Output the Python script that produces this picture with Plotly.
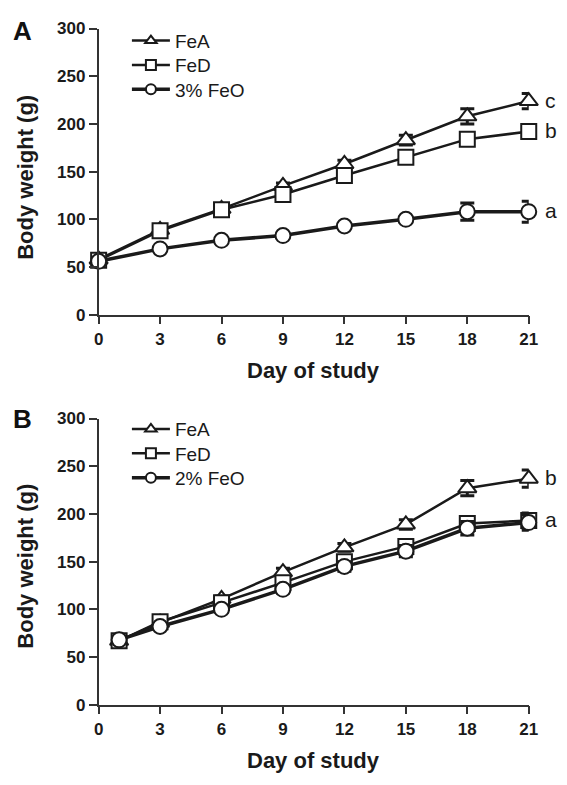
import plotly.graph_objects as go

# ---------------- data ----------------
days_a = [0, 3, 6, 9, 12, 15, 18, 21]
fea_a = [58, 89, 111, 135, 158, 183, 208, 224]
fea_a_err = [2, 3, 3, 3, 4, 5, 8, 8]
fed_a = [57, 88, 110, 126, 146, 165, 184, 192]
fed_a_err = [2, 3, 3, 3, 4, 6, 4, 4]
feo_a = [56, 69, 78, 83, 93, 100, 108, 108]
feo_a_err = [2, 2, 2, 2, 3, 3, 9, 11]

days_b = [1, 3, 6, 9, 12, 15, 18, 21]
fea_b = [67, 86, 111, 139, 165, 189, 227, 237]
fea_b_err = [2, 3, 3, 4, 4, 5, 8, 9]
fed_b = [67, 87, 107, 128, 150, 166, 190, 193]
fed_b_err = [2, 3, 3, 4, 5, 6, 5, 8]
feo_b = [68, 82, 100, 121, 145, 161, 185, 191]
feo_b_err = [2, 3, 3, 4, 5, 6, 7, 8]

names_a = ["FeA", "FeD", "3% FeO"]
names_b = ["FeA", "FeD", "2% FeO"]
letters_a = ["c", "b", "a"]
letters_b = ["b", "a"]

x_ticks = [0, 3, 6, 9, 12, 15, 18, 21]
y_ticks = [0, 50, 100, 150, 200, 250, 300]

INK = "#1a1a1a"
SYMS = ["triangle-up", "square", "circle"]
msizes = [16, 15, 15]
lwidths = [2.5, 2.5, 3.5]
FONT = "Liberation Sans, Arial, sans-serif"
W, H = 567, 785

fig = go.Figure()

def add_series(xs, ys, errs, idx, xa, ya):
    fig.add_trace(go.Scatter(
        x=xs, y=ys, mode="lines+markers", xaxis=xa, yaxis=ya,
        showlegend=False, cliponaxis=False,
        line=dict(color=INK, width=lwidths[idx]),
        marker=dict(symbol=SYMS[idx], size=msizes[idx], color="white",
                    line=dict(color=INK, width=2)),
        error_y=dict(type="data", array=errs, visible=True,
                     color=INK, thickness=3, width=7),
    ))

def add_legend(name, idx, legend):
    fig.add_trace(go.Scatter(
        x=[None], y=[None], mode="lines+markers", name=name,
        legend=legend, showlegend=True,
        line=dict(color=INK, width=lwidths[idx]),
        marker=dict(symbol=SYMS[idx], size=10, color="white",
                    line=dict(color=INK, width=2)),
    ))

for i, (ys, es) in enumerate([(fea_a, fea_a_err), (fed_a, fed_a_err), (feo_a, feo_a_err)]):
    add_series(days_a, ys, es, i, "x", "y")
for i, (ys, es) in enumerate([(fea_b, fea_b_err), (fed_b, fed_b_err), (feo_b, feo_b_err)]):
    add_series(days_b, ys, es, i, "x2", "y2")

legend_layout = {}
k = 0
for panel_top, names in [(13, names_a), (411, names_b)]:
    for i, n in enumerate(names):
        k += 1
        key = "legend" if k == 1 else f"legend{k}"
        add_legend(n, i, key)
        legend_layout[key] = dict(
            x=125 / W, y=1 - (panel_top + 25 * i) / H, xanchor="left", yanchor="top",
            bgcolor="rgba(0,0,0,0)", itemwidth=38,
            font=dict(family=FONT, size=19, color=INK))

xdom = [96 / W, 537 / W]
ydom_a = [1 - 313.3 / H, 1 - 20 / H]
ydom_b = [1 - 713 / H, 1 - 419.7 / H]

axis_common = dict(
    showline=True, linecolor="#333333", linewidth=1.5,
    ticks="outside", ticklen=8, tickwidth=1.5, tickcolor="#333333",
    showgrid=False, zeroline=False,
    tickfont=dict(family=FONT, size=17, color="#1a1a1a", weight="bold"),
)

fig.update_layout(
    width=W, height=H,
    margin=dict(l=0, r=0, t=0, b=0),
    paper_bgcolor="white", plot_bgcolor="white",
    xaxis=dict(domain=xdom, range=[0, 21], tickvals=x_ticks, anchor="y", **axis_common),
    yaxis=dict(domain=ydom_a, range=[0, 300], tickvals=y_ticks, anchor="x", **axis_common),
    xaxis2=dict(domain=xdom, range=[0, 21], tickvals=x_ticks, anchor="y2", **axis_common),
    yaxis2=dict(domain=ydom_b, range=[0, 300], tickvals=y_ticks, anchor="x2", **axis_common),
    showlegend=True,
    **legend_layout,
)

ann = []
for lab, yc in [("A", 22.5), ("B", 420.5)]:
    ann.append(dict(text=lab, x=17.5 / W, y=1 - yc / H, xref="paper", yref="paper",
                    showarrow=False, xanchor="center", yanchor="middle",
                    font=dict(family=FONT, size=26, color="#111", weight="bold")))
for yc in [370, 769.7]:
    ann.append(dict(text="Day of study", x=316 / W, y=1 - yc / H, xref="paper", yref="paper",
                    showarrow=False, xanchor="center", yanchor="middle",
                    font=dict(family=FONT, size=22, color="#1a1a1a", weight="bold")))
for yc in [172.5, 571]:
    ann.append(dict(text="Body weight (g)", x=21 / W, y=1 - yc / H, xref="paper", yref="paper",
                    showarrow=False, xanchor="center", yanchor="middle", textangle=-90,
                    font=dict(family=FONT, size=22, color="#1a1a1a", weight="bold")))
for lab, ys in zip(letters_a, [fea_a, fed_a, feo_a]):
    ann.append(dict(text=lab, x=days_a[-1], y=ys[-1], xref="x", yref="y", showarrow=False,
                    xanchor="left", yanchor="middle", xshift=14, yshift=1,
                    font=dict(family=FONT, size=21, color="#1a1a1a")))
for lab, ys in zip(letters_b, [fea_b, fed_b]):
    ann.append(dict(text=lab, x=days_b[-1], y=ys[-1], xref="x2", yref="y2", showarrow=False,
                    xanchor="left", yanchor="middle", xshift=14, yshift=1,
                    font=dict(family=FONT, size=21, color="#1a1a1a")))
fig.update_layout(annotations=ann)

fig.write_html(
    "out.html",
    config={"displayModeBar": False},
    post_script="document.body.style.margin='0px';document.body.style.overflow='hidden';",
)
